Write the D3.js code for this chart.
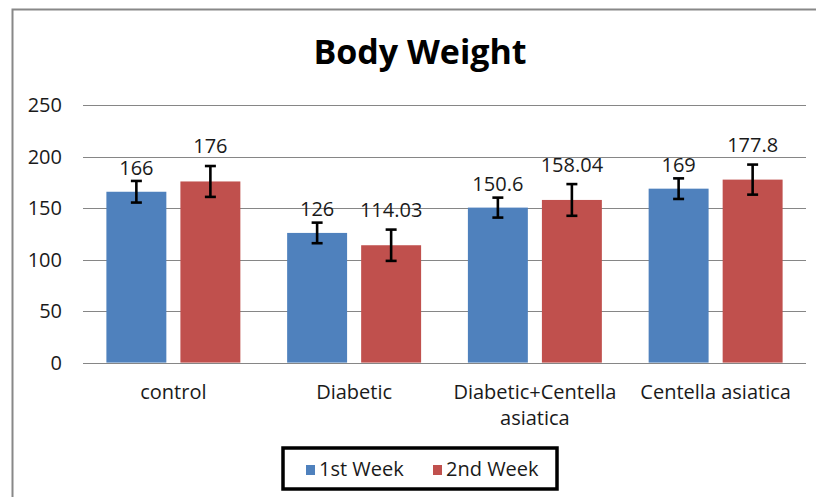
<!DOCTYPE html>
<html>
<head>
<meta charset="utf-8">
<script src="https://cdn.jsdelivr.net/npm/d3@7"></script>
<style>
  html, body { margin: 0; background: #fff; overflow: hidden; }
  svg { display: block; }
  svg text { font-family: "Open Sans", sans-serif; fill: #1a1a1a; }
  .title { font-weight: bold; font-size: 34px; fill: #000; }
  .tick-label, .cat-label, .value-label { font-size: 20px; }
  .legend-label { font-size: 20px; }
</style>
</head>
<body>
<svg id="chart"></svg>
<script>
// chart values
const categories = ["control", "Diabetic", "Diabetic+Centella asiatica", "Centella asiatica"];
const seriesNames = ["1st Week", "2nd Week"];
const week1 = [166, 126, 150.6, 169];
const week2 = [176, 114.03, 158.04, 177.8];
const week1Err = [10.5, 10, 9.7, 10];
const week2Err = [15, 15.2, 15.4, 14.6];
const yTicks = [0, 50, 100, 150, 200, 250];

class BarChart {
  constructor(_config) {
    this.config = {
      parentElement: _config.parentElement,
      containerWidth: 816,
      containerHeight: 497,
      plot: { left: 83, right: 806, top: 105.3, bottom: 362.6 },
      colors: ["#4f81bd", "#c0504d"],
      labelGap: [16.5, 28],
      centerX: 420
    };
    this.initVis();
  }

  initVis() {
    let vis = this;
    const p = vis.config.plot;

    vis.svg = d3.select(vis.config.parentElement)
      .attr("width", vis.config.containerWidth)
      .attr("height", vis.config.containerHeight);

    // outer chart border: only the left and top edges are inside the picture
    vis.svg.append("path")
      .attr("d", `M12.5,${vis.config.containerHeight} V9.5 H${vis.config.containerWidth}`)
      .attr("fill", "none")
      .attr("stroke", "#888")
      .attr("stroke-width", 2);

    vis.svg.append("text")
      .attr("class", "title")
      .attr("x", vis.config.centerX)
      .attr("y", 64)
      .attr("text-anchor", "middle")
      .text("Body Weight");

    // scales
    vis.xScale = d3.scaleBand().domain(categories).range([p.left, p.right]);
    vis.xSub = d3.scaleBand().domain(seriesNames)
      .range([0, vis.xScale.bandwidth()])
      .paddingInner(0.19).paddingOuter(0.316);
    vis.yScale = d3.scaleLinear().domain([0, 250]).range([p.bottom, p.top]);

    vis.chart = vis.svg.append("g");

    // gridlines
    vis.chart.append("g")
      .selectAll("line")
      .data(yTicks)
      .join("line")
      .attr("x1", p.left).attr("x2", p.right)
      .attr("y1", d => Math.round(vis.yScale(d)) + 0.5)
      .attr("y2", d => Math.round(vis.yScale(d)) + 0.5)
      .attr("stroke", "#868686")
      .attr("stroke-width", 1);

    // y axis labels (no axis line)
    vis.yAxis = d3.axisLeft(vis.yScale).tickValues(yTicks).tickSize(0).tickPadding(0);
    vis.chart.append("g")
      .attr("transform", `translate(62,0)`)
      .call(vis.yAxis)
      .call(g => g.select(".domain").remove())
      .call(g => g.selectAll("text")
        .attr("class", "tick-label")
        .attr("font-family", null).attr("font-size", null)
        .attr("fill", null));

    vis.renderVis();
  }

  renderVis() {
    let vis = this;
    const series = [
      { name: seriesNames[0], values: week1, errs: week1Err },
      { name: seriesNames[1], values: week2, errs: week2Err }
    ];
    const flat = [];
    series.forEach((s, si) => {
      s.values.forEach((v, i) => flat.push({ cat: categories[i], series: s.name, si: si, value: v, err: s.errs[i] }));
    });

    const bx = d => vis.xScale(d.cat) + vis.xSub(d.series);
    const bw = vis.xSub.bandwidth();

    vis.chart.selectAll(".bar")
      .data(flat)
      .join("rect")
      .attr("class", "bar")
      .attr("x", bx)
      .attr("width", bw)
      .attr("y", d => vis.yScale(d.value))
      .attr("height", d => vis.yScale(0) - vis.yScale(d.value))
      .attr("fill", d => vis.config.colors[d.si]);

    // error bars
    const err = vis.chart.selectAll(".err")
      .data(flat)
      .join("g")
      .attr("class", "err")
      .attr("stroke", "#000")
      .attr("stroke-width", 2.6);
    const cx = d => bx(d) + bw / 2;
    err.append("line")
      .attr("x1", cx).attr("x2", cx)
      .attr("y1", d => vis.yScale(d.value + d.err))
      .attr("y2", d => vis.yScale(d.value - d.err));
    err.append("line")
      .attr("x1", d => cx(d) - 5.5).attr("x2", d => cx(d) + 5.5)
      .attr("y1", d => vis.yScale(d.value + d.err))
      .attr("y2", d => vis.yScale(d.value + d.err));
    err.append("line")
      .attr("x1", d => cx(d) - 5.5).attr("x2", d => cx(d) + 5.5)
      .attr("y1", d => vis.yScale(d.value - d.err))
      .attr("y2", d => vis.yScale(d.value - d.err));

    // value labels
    vis.chart.selectAll(".value-label")
      .data(flat)
      .join("text")
      .attr("class", "value-label")
      .attr("x", cx)
      .attr("y", d => vis.yScale(d.value) - vis.config.labelGap[d.si])
      .attr("text-anchor", "middle")
      .text(d => String(d.value));

    // category labels, wrapped to the band width
    const catG = vis.chart.selectAll(".cat-label")
      .data(categories)
      .join("text")
      .attr("class", "cat-label")
      .attr("text-anchor", "middle")
      .attr("x", d => vis.xScale(d) + vis.xScale.bandwidth() / 2)
      .attr("y", 399);
    catG.each(function (d) {
      const t = d3.select(this);
      const words = d.split(" ");
      let line = [];
      let tspan = t.append("tspan").attr("x", t.attr("x")).attr("dy", 0);
      words.forEach(w => {
        line.push(w);
        tspan.text(line.join(" "));
        if (tspan.node().getComputedTextLength() > 174 && line.length > 1) {
          line.pop();
          tspan.text(line.join(" "));
          line = [w];
          tspan = t.append("tspan").attr("x", t.attr("x")).attr("dy", 26).text(w);
        }
      });
    });

    // legend
    const lg = vis.svg.append("g");
    lg.append("rect")
      .attr("x", 283).attr("y", 448)
      .attr("width", 274).attr("height", 41)
      .attr("fill", "#fff")
      .attr("stroke", "#000")
      .attr("stroke-width", 3.5);
    const itemX = [306, 433];
    seriesNames.forEach((s, i) => {
      lg.append("rect")
        .attr("x", itemX[i]).attr("y", 465)
        .attr("width", 9).attr("height", 10)
        .attr("fill", vis.config.colors[i]);
      lg.append("text")
        .attr("class", "legend-label")
        .attr("x", itemX[i] + 13)
        .attr("y", 476)
        .text(s);
    });
  }
}

new BarChart({ parentElement: "#chart" });
</script>
</body>
</html>
